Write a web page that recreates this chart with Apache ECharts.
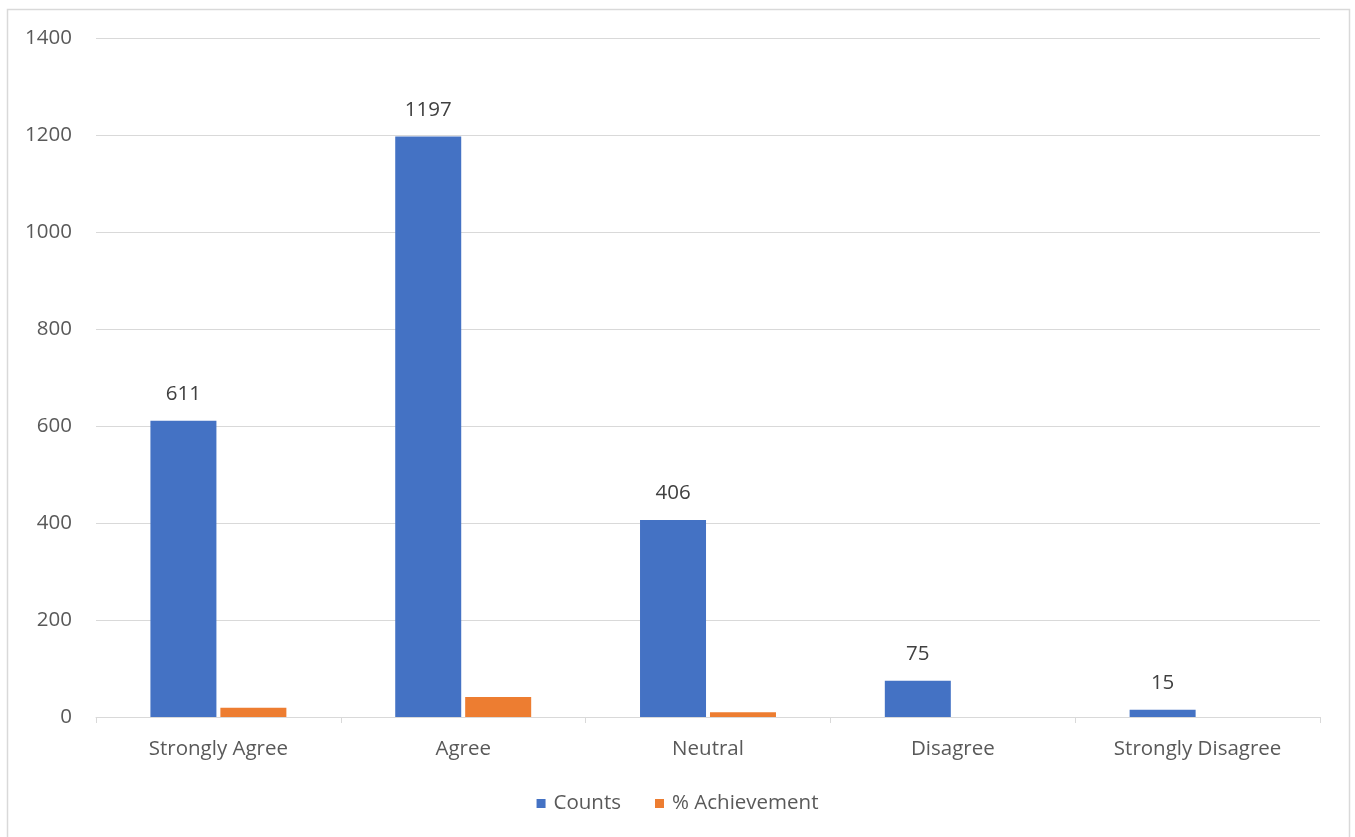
<!DOCTYPE html>
<html>
<head>
<meta charset="utf-8">
<script src="https://cdn.jsdelivr.net/npm/echarts@6/dist/echarts.min.js"></script>
<style>
html,body{margin:0;padding:0;background:#fff;}
#chart{width:1355px;height:837px;}
</style>
</head>
<body>
<div id="chart"></div>
<script>
// categories and values
var categories = ['Strongly Agree', 'Agree', 'Neutral', 'Disagree', 'Strongly Disagree'];
var counts = [611, 1197, 406, 75, 15];
var achievement = [19, 41, 10, 0, 0];
var yTicks = {min: 0, max: 1400, interval: 200};

var COLOR = {
	COUNTS: '#4472C4',
	ACHIEVE: '#ED7D31',
	GRID: '#D9D9D9',
	TEXT: '#595959'
};
var FONT = 'Open Sans';
var FS = 20.5;

var myChart = echarts.init(document.getElementById('chart'));
myChart.setOption({
	animation: false,
	textStyle: {fontFamily: FONT},
	graphic: [{
		type: 'rect',
		shape: {x: 7.5, y: 9.5, width: 1342, height: 840},
		style: {fill: 'none', stroke: COLOR.GRID, lineWidth: 1.5},
		silent: true
	}],
	grid: {left: 96, right: 35, top: 38, bottom: 120},
	legend: {
		bottom: 18,
		left: 'center',
		itemWidth: 9,
		itemHeight: 9,
		itemGap: 34,
		icon: 'rect',
		textStyle: {color: COLOR.TEXT, fontSize: FS, fontFamily: FONT, padding: [0, 0, 0, 3]},
		data: ['Counts', '% Achievement']
	},
	xAxis: {
		type: 'category',
		data: categories,
		axisLine: {lineStyle: {color: COLOR.GRID, width: 1}},
		axisTick: {show: true, alignWithLabel: false, length: 6, lineStyle: {color: COLOR.GRID}},
		axisLabel: {color: COLOR.TEXT, fontSize: FS, margin: 22}
	},
	yAxis: {
		type: 'value',
		min: yTicks.min,
		max: yTicks.max,
		interval: yTicks.interval,
		axisLine: {show: false},
		axisTick: {show: false},
		axisLabel: {
			color: COLOR.TEXT, fontSize: FS, margin: 24,
			formatter: function (v) { return String(v); }
		},
		splitLine: {lineStyle: {color: COLOR.GRID, width: 1}}
	},
	series: [
		{
			name: 'Counts',
			type: 'bar',
			data: counts,
			barWidth: 66,
			barGap: '6%',
			itemStyle: {color: COLOR.COUNTS},
			label: {show: true, position: 'top', distance: 16, color: '#404040', fontSize: FS}
		},
		{
			name: '% Achievement',
			type: 'bar',
			data: achievement,
			barWidth: 66,
			barGap: '6%',
			itemStyle: {color: COLOR.ACHIEVE}
		}
	]
});
</script>
</body>
</html>
